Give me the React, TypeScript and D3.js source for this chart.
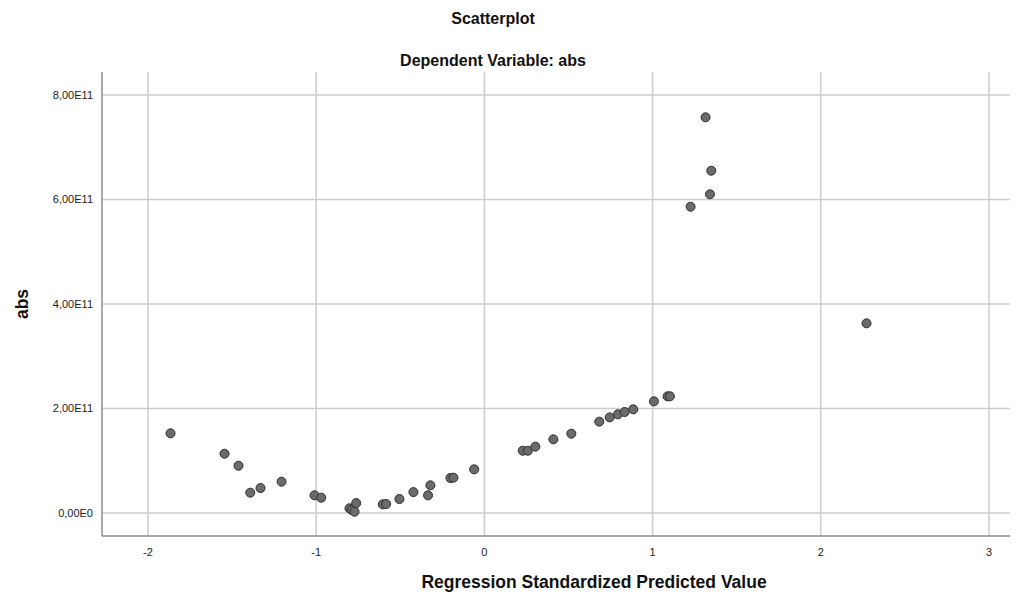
import React, { useRef, useEffect } from 'react';
import * as d3 from 'd3';

// Regression standardized predicted value (x) and dependent variable abs (y)
const predicted = [
  -1.866, -1.545, -1.462, -1.392, -1.331, -1.206, -1.010, -0.970,
  -0.802, -0.788, -0.772, -0.762, -0.604, -0.584, -0.505, -0.422,
  -0.335, -0.321, -0.202, -0.184, -0.061,
  0.228, 0.258, 0.303, 0.410, 0.517, 0.683, 0.745, 0.794, 0.834,
  0.885, 1.008, 1.089, 1.103,
  1.315, 1.349, 1.341, 1.226, 2.272,
];
const absValues = [
  1.525e11, 1.135e11, 0.905e11, 0.389e11, 0.478e11, 0.600e11, 0.339e11, 0.293e11,
  0.090e11, 0.057e11, 0.025e11, 0.190e11, 0.166e11, 0.172e11, 0.268e11, 0.400e11,
  0.338e11, 0.530e11, 0.670e11, 0.676e11, 0.836e11,
  1.192e11, 1.192e11, 1.270e11, 1.410e11, 1.518e11, 1.748e11, 1.830e11, 1.888e11, 1.933e11,
  1.985e11, 2.137e11, 2.233e11, 2.233e11,
  7.573e11, 6.551e11, 6.100e11, 5.862e11, 3.630e11,
];
const xTicks = [-2, -1, 0, 1, 2, 3];
const yTicks = [0, 2e11, 4e11, 6e11, 8e11];

const fmtY = (v: number) => {
  if (v === 0) return '0,00E0';
  const e = Math.floor(Math.log10(v));
  return `${(v / Math.pow(10, e)).toFixed(2).replace('.', ',')}E${e}`;
};

const App = () => {
  const svgRef = useRef<SVGSVGElement>(null);
  const width = 1025;
  const height = 598;
  const plot = { left: 102, right: 1010, top: 72, bottom: 536 };

  useEffect(() => {
    const svg = d3.select(svgRef.current);
    svg.selectAll('*').remove();

    const font = 'Arial, "Liberation Sans", sans-serif';

    const x = d3.scaleLinear()
      .domain([-2.2735, 3.125])
      .range([plot.left, plot.right]);

    const y = d3.scaleLinear()
      .domain([-0.44e11, 8.44e11])
      .range([plot.bottom, plot.top]);

    svg.append('rect')
      .attr('width', width)
      .attr('height', height)
      .attr('fill', '#fff');

    // grid lines
    svg.selectAll('line.vgrid')
      .data(xTicks)
      .join('line')
      .attr('class', 'vgrid')
      .attr('x1', d => x(d))
      .attr('x2', d => x(d))
      .attr('y1', plot.top)
      .attr('y2', plot.bottom)
      .attr('stroke', '#cccccc')
      .attr('stroke-width', 1.5);

    svg.selectAll('line.hgrid')
      .data(yTicks)
      .join('line')
      .attr('class', 'hgrid')
      .attr('x1', plot.left)
      .attr('x2', plot.right)
      .attr('y1', d => y(d))
      .attr('y2', d => y(d))
      .attr('stroke', '#cccccc')
      .attr('stroke-width', 1.5);

    // axis lines
    svg.append('line')
      .attr('x1', plot.left)
      .attr('x2', plot.left)
      .attr('y1', plot.top)
      .attr('y2', plot.bottom)
      .attr('stroke', '#8c8c8c')
      .attr('stroke-width', 1.5);

    svg.append('line')
      .attr('x1', plot.left)
      .attr('x2', plot.right)
      .attr('y1', plot.bottom)
      .attr('y2', plot.bottom)
      .attr('stroke', '#8c8c8c')
      .attr('stroke-width', 1.5);

    // tick labels
    svg.selectAll('text.xtick')
      .data(xTicks)
      .join('text')
      .attr('class', 'xtick')
      .attr('x', d => x(d))
      .attr('y', plot.bottom + 20)
      .attr('text-anchor', 'middle')
      .attr('font-family', font)
      .attr('font-size', '11px')
      .attr('fill', '#222')
      .text(d => String(d));

    svg.selectAll('text.ytick')
      .data(yTicks)
      .join('text')
      .attr('class', 'ytick')
      .attr('x', plot.left - 9)
      .attr('y', d => y(d))
      .attr('dy', '0.35em')
      .attr('text-anchor', 'end')
      .attr('font-family', font)
      .attr('font-size', '11px')
      .attr('fill', '#222')
      .text(d => fmtY(d));

    // points
    svg.selectAll('circle.pt')
      .data(predicted)
      .join('circle')
      .attr('class', 'pt')
      .attr('cx', d => x(d))
      .attr('cy', (d, i) => y(absValues[i]))
      .attr('r', 4.5)
      .attr('fill', '#6b6b6b')
      .attr('stroke', '#2e2e2e')
      .attr('stroke-width', 1);

    // titles
    svg.append('text')
      .attr('x', 493)
      .attr('y', 24)
      .attr('text-anchor', 'middle')
      .attr('font-family', font)
      .attr('font-weight', 'bold')
      .attr('font-size', '16px')
      .attr('fill', '#111')
      .text('Scatterplot');

    svg.append('text')
      .attr('x', 493)
      .attr('y', 66)
      .attr('text-anchor', 'middle')
      .attr('font-family', font)
      .attr('font-weight', 'bold')
      .attr('font-size', '16px')
      .attr('fill', '#111')
      .text('Dependent Variable: abs');

    svg.append('text')
      .attr('x', 594)
      .attr('y', 588)
      .attr('text-anchor', 'middle')
      .attr('font-family', font)
      .attr('font-weight', 'bold')
      .attr('font-size', '17.5px')
      .attr('fill', '#111')
      .text('Regression Standardized Predicted Value');

    svg.append('text')
      .attr('transform', `translate(28, ${y(4e11)}) rotate(-90)`)
      .attr('text-anchor', 'middle')
      .attr('font-family', font)
      .attr('font-weight', 'bold')
      .attr('font-size', '17.5px')
      .attr('fill', '#111')
      .text('abs');
  }, []);

  return (
    <div style={{ position: 'absolute', left: 0, top: 0 }}>
      <svg ref={svgRef} width={width} height={height} style={{ display: 'block' }} />
    </div>
  );
};

export default App;
